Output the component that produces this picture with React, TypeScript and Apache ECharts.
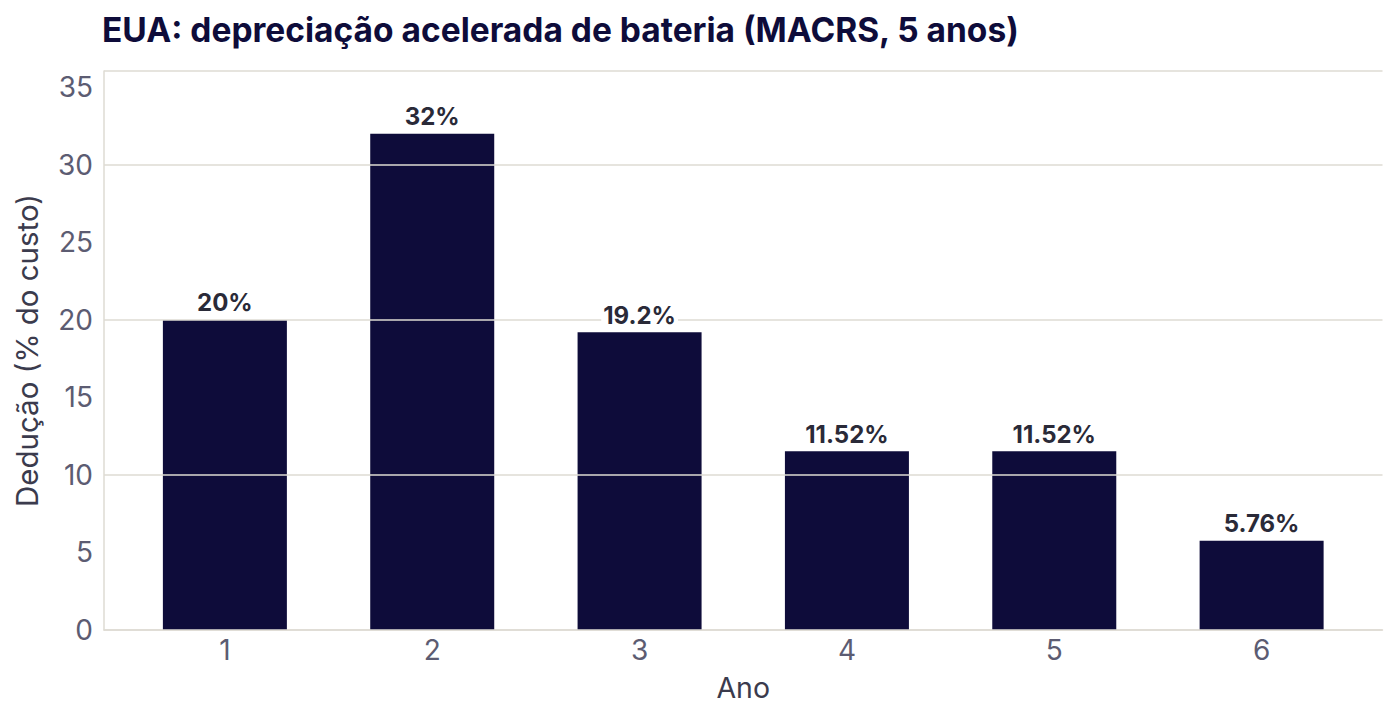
import React, { useEffect, useRef } from "react";
import * as echarts from "echarts";

const years = [1, 2, 3, 4, 5, 6];
const deductions = [20, 32, 19.2, 11.52, 11.52, 5.76];
const yTicks = [0, 5, 10, 15, 20, 25, 30, 35];

const NAVY = "#0e0c3a";
const GRID = "#dedbd3";
const FONT = "Inter, 'Noto Sans', sans-serif";

export default function App() {
  const ref = useRef<HTMLDivElement>(null);
  useEffect(() => {
    document.body.style.margin = "0";
    if (!ref.current) return;
    const chart = echarts.init(ref.current, undefined, { renderer: "svg" });
    const points = years.map((y, i) => [y, deductions[i]]);
    chart.setOption({
      animation: false,
      backgroundColor: "#ffffff",
      textStyle: { fontFamily: FONT },
      title: {
        text: "EUA: depreciação acelerada de bateria (MACRS, 5 anos)",
        left: 102,
        top: 13,
        padding: 0,
        textStyle: { fontFamily: FONT, fontSize: 33.5, fontWeight: "bold", color: NAVY },
      },
      grid: { left: 104, right: 17.5, top: 71, bottom: 94, containLabel: false },
      xAxis: {
        type: "value",
        min: 0.417,
        max: 6.583,
        name: "Ano",
        nameLocation: "middle",
        nameGap: 43,
        nameTextStyle: { fontFamily: FONT, fontSize: 28.5, color: "#3b3b4d" },
        axisLine: { show: true, lineStyle: { color: GRID, width: 1.5 } },
        axisTick: { show: false, customValues: years },
        splitLine: { show: false },
        axisLabel: {
          customValues: years,
          fontFamily: FONT,
          fontSize: 28,
          color: "#5c5c72",
          margin: 6,
          formatter: (v: number) => String(v),
        },
      },
      yAxis: {
        type: "value",
        min: 0,
        max: 36.05,
        z: 3,
        name: "Dedução (% do custo)",
        nameLocation: "middle",
        nameGap: 62,
        nameTextStyle: { fontFamily: FONT, fontSize: 29.5, color: "#3b3b4d" },
        axisLine: { show: true, lineStyle: { color: GRID, width: 1.5 } },
        axisTick: { show: false },
        splitLine: { show: true, lineStyle: { color: GRID, width: 1.5 } },
        axisLabel: {
          customValues: yTicks,
          fontFamily: FONT,
          fontSize: 28,
          color: "#5c5c72",
          margin: 11,
        },
      },
      series: [
        {
          type: "bar",
          data: points,
          barWidth: 124,
          itemStyle: { color: NAVY },
          label: { show: false },
        },
        {
          type: "scatter",
          data: points,
          z: 5,
          symbolSize: 0,
          silent: true,
          itemStyle: { color: "#ffffff", opacity: 1 },
          label: {
            show: true,
            position: "top",
            distance: 5,
            fontFamily: FONT,
            fontSize: 24,
            fontWeight: "bold",
            color: "#2a2a38",
            opacity: 1,
            backgroundColor: "#ffffff",
            padding: [0, 2, 0, 2],
            formatter: (p: any) => `${p.value[1]}%`,
          },
        },
      ],
    });
    return () => chart.dispose();
  }, []);
  return <div ref={ref} style={{ width: 1400, height: 724 }} />;
}
